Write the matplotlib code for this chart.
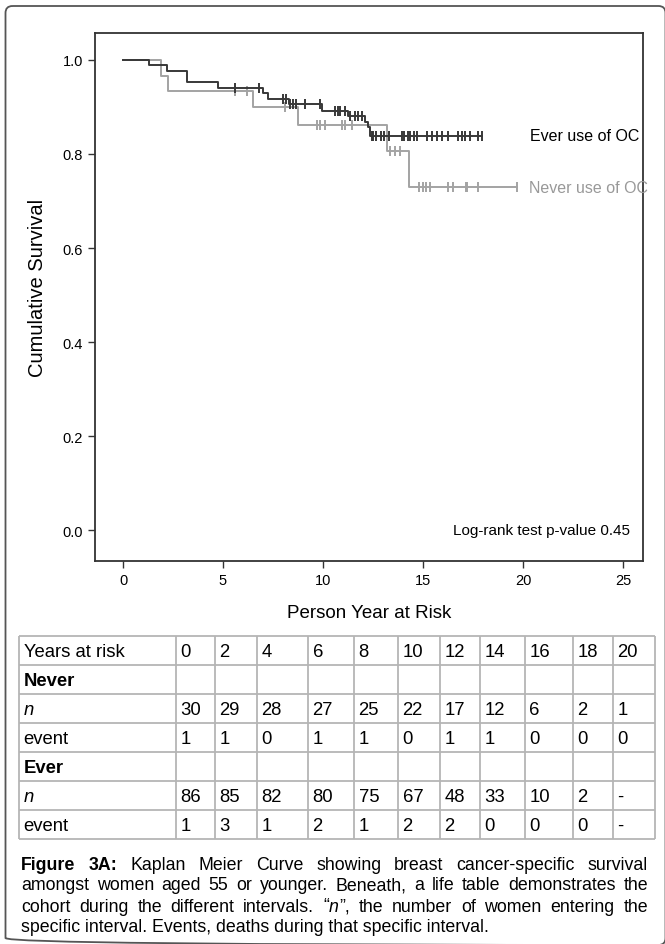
import matplotlib
matplotlib.use('Agg')
import matplotlib.pyplot as plt
from matplotlib.patches import FancyBboxPatch
import numpy as np

plt.rcParams['font.family'] = ['Liberation Sans', 'DejaVu Sans']

# Kaplan Meier steps (time in years, survival after the drop)
ever_times = [0, 1.3, 2.2, 3.2, 4.75, 7.0, 7.25, 8.3, 9.95, 11.25, 12.1, 12.25, 12.35]
ever_surv = [1.0, 0.989, 0.977, 0.953, 0.941, 0.930, 0.917, 0.906, 0.892, 0.881, 0.868, 0.858, 0.839]
ever_end = 17.95
ever_censor = [5.6, 6.8, 8.0, 8.13, 8.35, 8.5, 8.67, 9.08, 9.85, 10.6, 10.75, 10.85, 11.1,
               11.35, 11.6, 11.75, 11.95, 12.43, 12.5, 12.65, 12.88, 13.05, 13.32, 13.93,
               14.07, 14.27, 14.35, 14.57, 14.68, 15.18, 15.43, 15.72, 15.93, 16.27, 16.77,
               16.93, 17.1, 17.35, 17.77, 17.95]

never_times = [0, 1.9, 2.25, 6.5, 8.75, 13.2, 14.3]
never_surv = [1.0, 0.966, 0.934, 0.900, 0.862, 0.806, 0.729]
never_end = 19.7
never_censor = [5.6, 6.2, 8.1, 9.7, 9.85, 10.1, 10.95, 11.1, 11.45, 13.35, 13.6, 13.85,
                14.82, 14.98, 15.15, 15.35, 16.27, 16.48, 17.15, 17.22, 17.77, 19.7]

x_ticks = [0, 5, 10, 15, 20, 25]
y_ticks = [0.0, 0.2, 0.4, 0.6, 0.8, 1.0]

# life table
years = ['0', '2', '4', '6', '8', '10', '12', '14', '16', '18', '20']
never_n = ['30', '29', '28', '27', '25', '22', '17', '12', '6', '2', '1']
never_event = ['1', '1', '0', '1', '1', '0', '1', '1', '0', '0', '0']
ever_n = ['86', '85', '82', '80', '75', '67', '48', '33', '10', '2', '-']
ever_event = ['1', '3', '1', '2', '1', '2', '2', '0', '0', '0', '-']

caption = [
    [[('Figure', 'bold')], [('3A:', 'bold')], [('Kaplan', '')], [('Meier', '')], [('Curve', '')],
     [('showing', '')], [('breast', '')], [('cancer-specific', '')], [('survival', '')]],
    [[(w, '')] for w in 'amongst women aged 55 or younger. Beneath, a life table demonstrates the'.split()],
    [[(w, '')] for w in 'cohort during the different intervals.'.split()]
    + [[('\u201c', ''), ('n', 'italic'), ('\u201d,', '')]]
    + [[(w, '')] for w in 'the number of women entering the'.split()],
]
caption_last = 'specific interval. Events, deaths during that specific interval.'

W, H = 665, 945
fig = plt.figure(figsize=(W / 100, H / 100), dpi=100)

# overlay in pixel units for the frame, table and caption
lay = fig.add_axes([0, 0, 1, 1])
lay.set_xlim(0, W)
lay.set_ylim(H, 0)
lay.axis('off')
lay.add_patch(FancyBboxPatch((5.5, 7), 660, 939, boxstyle='round,pad=0,rounding_size=7',
                             fill=False, ec='#555555', lw=1.3))

ax_top, ax_bot = 34, 562
ax = fig.add_axes([95 / W, 1 - ax_bot / H, 548 / W, (ax_bot - ax_top) / H])


def level(times, surv, t):
    idx = np.searchsorted(times, t, side='right') - 1
    return np.asarray(surv)[idx]


for times, surv, end, cens, col in [(never_times, never_surv, never_end, never_censor, '#a3a3a3'),
                                    (ever_times, ever_surv, ever_end, ever_censor, '#383838')]:
    ax.step(times + [end], surv + [surv[-1]], where='post', color=col, lw=1.4)
    ax.plot(cens, level(times, surv, cens), ls='none', marker='|', ms=7, mew=1.4, color=col)

ax.set_xlim(-1.4, 26.0)
ax.set_ylim(-0.065, 1.057)
ax.set_xticks(x_ticks)
ax.set_yticks(y_ticks)
ax.set_yticklabels(['%.1f' % v for v in y_ticks])
ax.tick_params(direction='out', length=5, width=1, color='#333333', labelsize=10.5, pad=3.5)
for s in ax.spines.values():
    s.set_color('#333333')
    s.set_linewidth(1.3)
ax.set_xlabel('Person Year at Risk', fontsize=13.5)
ax.set_ylabel('Cumulative Survival', fontsize=14.5)
ax.xaxis.set_label_coords(0.5, -0.082)
ax.yaxis.set_label_coords(-0.088, 0.52)

ax.text(20.35, ever_surv[-1], 'Ever use of OC', ha='left', va='center', fontsize=11.5)
ax.text(20.3, never_surv[-1], 'Never use of OC', ha='left', va='center', fontsize=11.5,
        color='#999999')
ax.text(25.35, 0.0, 'Log-rank test p-value 0.45', ha='right', va='center', fontsize=11)

# table
col_edges = [19, 176, 215, 257, 308, 354, 398, 440, 480, 525, 573, 613, 655]
row_top, row_h = 637, 29
rows = [
    (('Years at risk', 'normal', 'normal'), years),
    (('Never', 'bold', 'normal'), [''] * len(years)),
    (('n', 'normal', 'italic'), never_n),
    (('event', 'normal', 'normal'), never_event),
    (('Ever', 'bold', 'normal'), [''] * len(years)),
    (('n', 'normal', 'italic'), ever_n),
    (('event', 'normal', 'normal'), ever_event),
]
row_edges = [row_top + i * row_h for i in range(len(rows) + 1)]
lay.hlines(row_edges, col_edges[0], col_edges[-1], color='#b5b5b5', lw=1.3)
lay.vlines(col_edges, row_edges[0], row_edges[-1], color='#b5b5b5', lw=1.3)
for r, ((label, wt, st), vals) in enumerate(rows):
    yc = row_top + (r + 0.5) * row_h + 1
    lay.text(col_edges[0] + 4.5, yc, label, fontsize=13.3, fontweight=wt, fontstyle=st,
             ha='left', va='center')
    for c, v in enumerate(vals):
        lay.text(col_edges[c + 1] + 4.5, yc, v, fontsize=13.3, ha='left', va='center')

# caption, justified
cap_fs = 12.8
cap_x0, cap_x1 = 21, 648
cap_y = [865, 886, 907, 928]
renderer = fig.canvas.get_renderer()
for line, y in zip(caption, cap_y):
    placed = []
    total = 0
    for word in line:
        parts = []
        w = 0
        for txt, sty in word:
            kw = {}
            if sty == 'bold':
                kw['fontweight'] = 'bold'
            if sty == 'italic':
                kw['fontstyle'] = 'italic'
            t = lay.text(0, y, txt, fontsize=cap_fs, ha='left', va='center', **kw)
            parts.append((t, w))
            w += t.get_window_extent(renderer).width
        placed.append((parts, w))
        total += w
    gap = (cap_x1 - cap_x0 - total) / (len(line) - 1)
    x = cap_x0
    for parts, w in placed:
        for t, off in parts:
            t.set_x(x + off)
        x += w + gap
lay.text(cap_x0, cap_y[3], caption_last, fontsize=cap_fs, ha='left', va='center')

fig.savefig('out.png', dpi=100)
